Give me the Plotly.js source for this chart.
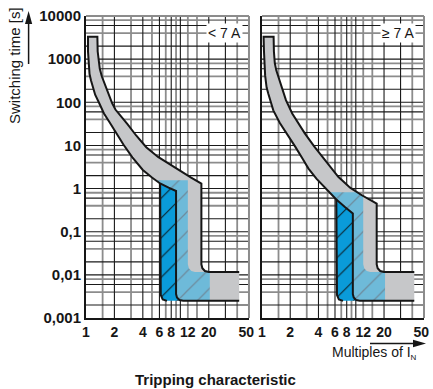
<!DOCTYPE html>
<html><head><meta charset="utf-8">
<script src="https://cdn.plot.ly/plotly-3.0.1.min.js"></script>
<style>html,body{margin:0;padding:0;background:#fff}#chart{width:433px;height:389px}</style>
</head><body><div id="chart"></div>
<script>
// ---- tick labels ----
const xTickVals = [1, 2, 4, 6, 8, 12, 20, 50];
const xTickText = ['1', '2', '4', '6', '8', '12', '20', '50'];
const yTickVals = [0.001, 0.01, 0.1, 1, 10, 100, 1000, 10000];
const yTickText = ['0,001', '0,01', '0,1', '1', '10', '100', '1000', '10000'];

// ---- grid lines ----
const xGridDark = [2, 4, 6, 8, 10, 20, 30];
const xGridLight = [1.5, 3, 5, 7, 9, 12, 15, 40];
const yGridDark = [0.002, 0.006, 0.01, 0.02, 0.06, 0.1, 0.2, 0.6, 1, 2, 6, 10, 20, 60, 100, 200, 600, 1000, 2000, 6000];
const yGridLight = [0.004, 0.008, 0.04, 0.08, 0.4, 0.8, 4, 8, 40, 80, 400, 800, 4000, 8000];

// ---- panel "< 7 A" ----
const ltAx = [1.05, 1.05, 1.066, 1.09, 1.13, 1.175, 1.25, 1.386, 1.55, 1.77, 2.10, 2.49, 3.10, 4.00, 5.00, 6.10, 7.50, 9.00, 9.00, 9.2, 9.8, 10.7, 42];
const ltAt = [3300, 1500, 667, 450, 320, 229, 150, 94, 55, 35, 19, 10.5, 5.3, 2.7, 1.8, 1.31, 1.05, 0.88, 0.0036, 0.003, 0.0026, 0.0025, 0.0025];
const ltBx = [1.32, 1.33, 1.35, 1.40, 1.47, 1.566, 1.72, 1.89, 2.05, 2.30, 2.75, 3.40, 4.35, 5.80, 7.80, 10.2, 13.0, 16.7, 16.7, 17.1, 18.2, 20, 42];
const ltBt = [3300, 1500, 1000, 600, 400, 279, 165, 96, 68, 50, 31, 17, 9.1, 5.4, 3.5, 2.5, 1.8, 1.31, 0.0175, 0.0143, 0.0123, 0.0117, 0.0117];
const ltCx = [6.1, 6.1, 6.2, 6.5, 7.2];
const ltCt = [1.31, 0.0045, 0.0034, 0.0027, 0.0025];
const ltLightX = [5.5, 6.1, 7.5, 9.0, 9.0, 9.2, 9.8, 10.7, 20.5, 20.5, 14.3, 13.1, 12.3, 12.0, 12.0];
const ltLightT = [1.55, 1.31, 1.05, 0.88, 0.0036, 0.003, 0.0026, 0.0025, 0.0025, 0.0117, 0.0117, 0.0123, 0.0143, 0.0175, 1.55];
const ltDarkX = [6.1, 6.1, 6.2, 6.5, 7.2, 10.7, 9.8, 9.2, 9.0, 9.0, 7.5];
const ltDarkT = [1.31, 0.0045, 0.0034, 0.0027, 0.0025, 0.0025, 0.0026, 0.003, 0.0036, 0.88, 1.05];

// ---- panel ">= 7 A" ----
const geAx = [1.04, 1.05, 1.06, 1.08, 1.10, 1.12, 1.17, 1.23, 1.32, 1.55, 1.84, 2.25, 2.70, 3.13, 3.80, 4.50, 5.30, 6.20, 7.60, 9.30, 9.30, 9.5, 10.1, 11.0, 42];
const geAt = [3300, 1500, 700, 420, 300, 220, 155, 112, 65, 33, 19, 9.5, 5.0, 2.9, 1.7, 1.15, 0.8, 0.56, 0.38, 0.264, 0.0036, 0.003, 0.0026, 0.0025, 0.0025];
const geBx = [1.33, 1.34, 1.37, 1.42, 1.50, 1.62, 1.80, 2.10, 2.50, 2.86, 3.60, 4.60, 6.50, 8.70, 11.6, 16.7, 16.7, 17.1, 18.2, 20, 42];
const geBt = [3300, 1500, 800, 550, 390, 220, 112, 55, 30, 19, 9.5, 4.8, 1.87, 1.05, 0.70, 0.45, 0.0175, 0.0143, 0.0123, 0.0117, 0.0117];
const geCx = [6.2, 6.2, 6.3, 6.6, 7.3];
const geCt = [0.56, 0.0045, 0.0034, 0.0027, 0.0025];
const geLightX = [5.2, 6.2, 7.6, 9.3, 9.3, 9.5, 10.1, 11.0, 20.5, 20.5, 14.3, 13.1, 12.3, 12.0, 12.0, 11.6, 10.5];
const geLightT = [0.82, 0.56, 0.38, 0.264, 0.0036, 0.003, 0.0026, 0.0025, 0.0025, 0.0117, 0.0117, 0.0123, 0.0143, 0.0175, 0.68, 0.70, 0.82];
const geDarkX = [6.2, 6.2, 6.3, 6.6, 7.3, 11.0, 10.1, 9.5, 9.3, 9.3, 7.6];
const geDarkT = [0.56, 0.0045, 0.0034, 0.0027, 0.0025, 0.0025, 0.0026, 0.003, 0.0036, 0.264, 0.38];

const FONT = 'Liberation Sans, Arial, Helvetica, sans-serif';
const GRAY = '#c6c7c9', DARKBLUE = '#0a9bd9', LIGHTBLUE = '#6ebad9', INK = '#161616';

function panelTraces(xa, ya, Ax, At, Bx, Bt, Cx, Ct, Lx, Lt, Dx, Dt) {
  const base = {type: 'scatter', mode: 'lines', xaxis: xa, yaxis: ya, hoverinfo: 'skip', showlegend: false};
  const revBx = Bx.slice().reverse(), revBt = Bt.slice().reverse();
  return [
    Object.assign({}, base, {x: Ax.concat(revBx), y: At.concat(revBt), fill: 'toself', fillcolor: GRAY, line: {width: 0, color: 'rgba(0,0,0,0)'}}),
    Object.assign({}, base, {x: Lx, y: Lt, fill: 'toself', fillcolor: LIGHTBLUE, line: {width: 0, color: 'rgba(0,0,0,0)'},
      fillpattern: {shape: '/', size: 14, solidity: 0.09, bgcolor: LIGHTBLUE, fgcolor: '#6e8d9f', fillmode: 'replace'}}),
    Object.assign({}, base, {x: Dx, y: Dt, fill: 'toself', fillcolor: DARKBLUE, line: {width: 0, color: 'rgba(0,0,0,0)'},
      fillpattern: {shape: '/', size: 14, solidity: 0.08, bgcolor: DARKBLUE, fgcolor: '#0c2530', fillmode: 'replace'}}),
    Object.assign({}, base, {x: revBx.concat(Ax), y: revBt.concat(At), line: {color: INK, width: 2}}),
    Object.assign({}, base, {x: Cx, y: Ct, line: {color: INK, width: 2}})
  ];
}

const data = panelTraces('x', 'y', ltAx, ltAt, ltBx, ltBt, ltCx, ltCt, ltLightX, ltLightT, ltDarkX, ltDarkT)
  .concat(panelTraces('x2', 'y2', geAx, geAt, geBx, geBt, geCx, geCt, geLightX, geLightT, geDarkX, geDarkT));

// grid shapes
const shapes = [];
[['x', 'y'], ['x2', 'y2']].forEach(([xa, ya]) => {
  xGridLight.forEach(v => shapes.push({type: 'line', layer: 'below', xref: xa, yref: ya + ' domain', x0: v, x1: v, y0: 0, y1: 1, line: {color: '#8c8c8c', width: 1.8}}));
  yGridLight.forEach(v => shapes.push({type: 'line', layer: 'below', xref: xa + ' domain', yref: ya, x0: 0, x1: 1, y0: v, y1: v, line: {color: '#8c8c8c', width: 1.8}}));
  xGridDark.forEach(v => shapes.push({type: 'line', layer: 'below', xref: xa, yref: ya + ' domain', x0: v, x1: v, y0: 0, y1: 1, line: {color: '#1a1a1a', width: 1.1}}));
  yGridDark.forEach(v => shapes.push({type: 'line', layer: 'below', xref: xa + ' domain', yref: ya, x0: 0, x1: 1, y0: v, y1: v, line: {color: '#1a1a1a', width: 1.1}}));
  shapes.push({type: 'line', layer: 'below', xref: xa + ' domain', yref: ya + ' domain', x0: 0, x1: 1, y0: 1, y1: 1, line: {color: '#8c8c8c', width: 2}});
  shapes.push({type: 'line', layer: 'below', xref: xa + ' domain', yref: ya + ' domain', x0: 1, x1: 1, y0: 0, y1: 1, line: {color: '#8c8c8c', width: 2}});
});

// pixel -> paper helpers (plot area: l=86, t=16, w=338, h=302)
const PX = p => (p - 86) / 338;
const PY = p => (318 - p) / 302;
shapes.push({type: 'line', xref: 'paper', yref: 'paper', x0: PX(28.6), x1: PX(28.6), y0: PY(64), y1: PY(22), line: {color: INK, width: 1.5}});
shapes.push({type: 'path', xref: 'paper', yref: 'paper', fillcolor: INK, line: {width: 0},
  path: `M ${PX(28.6)} ${PY(11)} L ${PX(25)} ${PY(24)} L ${PX(32.2)} ${PY(24)} Z`});
shapes.push({type: 'line', xref: 'paper', yref: 'paper', x0: PX(370), x1: PX(414), y0: PY(343.5), y1: PY(343.5), line: {color: INK, width: 1.5}});
shapes.push({type: 'path', xref: 'paper', yref: 'paper', fillcolor: INK, line: {width: 0},
  path: `M ${PX(426)} ${PY(343.5)} L ${PX(413)} ${PY(339.8)} L ${PX(413)} ${PY(347.2)} Z`});

const ann = (o) => Object.assign({xref: 'paper', yref: 'paper', showarrow: false, xanchor: 'center', yanchor: 'middle'}, o);
const annotations = [
  ann({text: '&lt; 7 A', x: PX(224), y: PY(33), bgcolor: '#fff', borderpad: 1, font: {family: FONT, size: 14, color: INK}}),
  ann({text: '≥ 7 A', x: PX(397.5), y: PY(33), bgcolor: '#fff', borderpad: 1, font: {family: FONT, size: 14, color: INK}}),
  ann({text: 'Switching time [s]', textangle: -90, x: PX(15), y: PY(66), font: {family: FONT, size: 15, color: INK}}),
  ann({text: 'Multiples of I<sub><span style="font-size:8px">N</span></sub>', x: PX(419), y: PY(353), xanchor: 'right', font: {family: FONT, size: 14, color: INK}}),
  ann({text: 'Tripping characteristic', x: PX(215), y: PY(379), font: {family: FONT, size: 15, color: INK, weight: 'bold'}})
];

const xCommon = {type: 'log', range: [0, 1.727], tickmode: 'array', tickvals: xTickVals, ticktext: xTickText,
  showgrid: false, zeroline: false, showline: true, linecolor: INK, linewidth: 2, ticks: '',
  tickfont: {family: FONT, size: 14, weight: 'bold', color: INK}, fixedrange: true};
const yCommon = {type: 'log', range: [-3, 4], tickmode: 'array', tickvals: yTickVals, ticktext: yTickText,
  showgrid: false, zeroline: false, showline: true, linecolor: INK, linewidth: 2, ticks: '',
  tickfont: {family: FONT, size: 15, weight: 'bold', color: INK}, fixedrange: true, domain: [0, 1]};

const layout = {
  width: 433, height: 389, margin: {l: 86, r: 9, t: 16, b: 71},
  paper_bgcolor: '#fff', plot_bgcolor: '#fff', showlegend: false,
  xaxis: Object.assign({}, xCommon, {domain: [0, 0.4822], anchor: 'y'}),
  xaxis2: Object.assign({}, xCommon, {domain: [0.5207, 1], anchor: 'y2'}),
  yaxis: Object.assign({}, yCommon, {anchor: 'x'}),
  yaxis2: Object.assign({}, yCommon, {anchor: 'x2', showticklabels: false}),
  shapes: shapes, annotations: annotations
};

Plotly.newPlot('chart', data, layout, {displayModeBar: false, staticPlot: true});
</script>
</body></html>
